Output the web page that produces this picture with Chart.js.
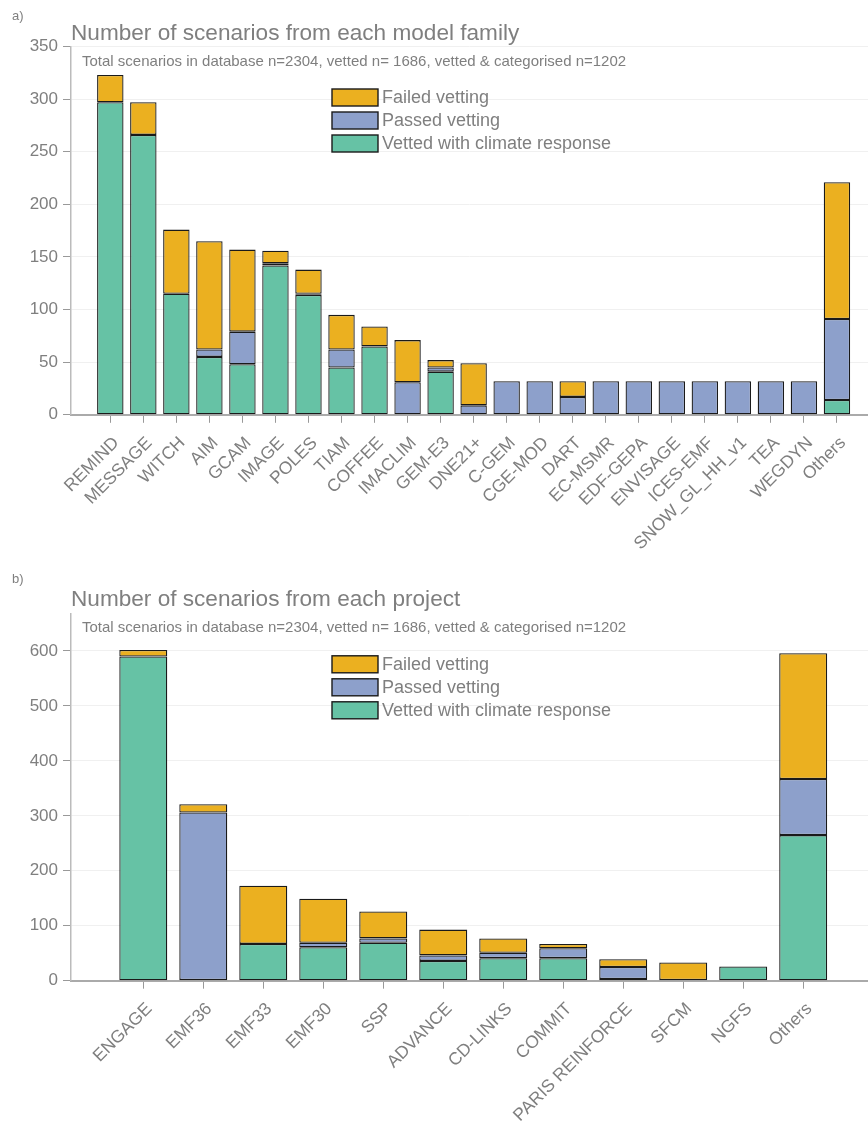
<!DOCTYPE html>
<html>
<head>
<meta charset="utf-8">
<script src="https://cdn.jsdelivr.net/npm/chart.js@4.4.1/dist/chart.umd.min.js"></script>
<style>
  html, body { margin: 0; padding: 0; background: #fff; overflow: hidden; }
  canvas { display: block; }
</style>
</head>
<body>
<canvas id="familyChart" width="868" height="560"></canvas>
<canvas id="projectChart" width="868" height="561"></canvas>
<script>
// a) model families
const modelFamilies = ["REMIND", "MESSAGE", "WITCH", "AIM", "GCAM", "IMAGE", "POLES", "TIAM", "COFFEE",
  "IMACLIM", "GEM-E3", "DNE21+", "C-GEM", "CGE-MOD", "DART", "EC-MSMR", "EDF-GEPA", "ENVISAGE",
  "ICES-EMF", "SNOW_GL_HH_v1", "TEA", "WEGDYN", "Others"];
const familyClimate = [297, 266, 115, 55, 48, 142, 114, 45, 65, 0, 41, 0, 0, 0, 0, 0, 0, 0, 0, 0, 0, 0, 14];
const familyPassed = [0, 0, 0, 7, 31, 2, 1, 17, 0, 31, 4, 9, 32, 32, 17, 32, 32, 32, 32, 32, 32, 32, 77];
const familyFailed = [26, 31, 61, 103, 78, 12, 23, 33, 19, 40, 7, 40, 0, 0, 15, 0, 0, 0, 0, 0, 0, 0, 130];

// b) projects
const projects = ["ENGAGE", "EMF36", "EMF33", "EMF30", "SSP", "ADVANCE", "CD-LINKS", "COMMIT",
  "PARIS REINFORCE", "SFCM", "NGFS", "Others"];
const projectClimate = [590, 1, 67, 61, 69, 36, 41, 41, 3, 0, 26, 265];
const projectPassed = [0, 305, 0, 8, 8, 10, 10, 18, 22, 1, 0, 102];
const projectFailed = [12, 15, 106, 80, 49, 47, 26, 8, 14, 32, 0, 229];

const subtitleText = "Total scenarios in database n=2304, vetted n= 1686, vetted & categorised n=1202";

const FONT = '"Liberation Sans", Arial, Helvetica, sans-serif';
const GREY = "#7f7f7f";
const COLORS = { climate: "#66c2a5", passed: "#8da0cb", failed: "#ebb020" };

// panel letter, title, note and the legend inside the plot
const panelPlugin = {
  id: "panel",
  afterDraw(chart, args, opts) {
    const { ctx, chartArea } = chart;
    ctx.save();
    ctx.fillStyle = GREY;
    ctx.textAlign = "left";
    ctx.textBaseline = "alphabetic";
    ctx.font = `13px ${FONT}`;
    ctx.fillText(opts.letter, 12, opts.letterY);
    ctx.font = `22.6px ${FONT}`;
    ctx.fillText(opts.title, chartArea.left, chartArea.top - 7);
    ctx.font = `15px ${FONT}`;
    ctx.fillText(subtitleText, chartArea.left + 11, chartArea.top + 19);

    ctx.font = `18px ${FONT}`;
    ctx.textBaseline = "middle";
    chart.data.datasets.slice().reverse().forEach((ds, i) => {
      const x = 332;
      const y = chartArea.top + 51 + i * 23;
      ctx.fillStyle = ds.backgroundColor;
      ctx.fillRect(x, y - 8.5, 46, 17);
      ctx.strokeStyle = "#1a1a1a";
      ctx.lineWidth = 1.4;
      ctx.strokeRect(x, y - 8.5, 46, 17);
      ctx.fillStyle = GREY;
      ctx.fillText(ds.label, x + 50, y + 1);
    });
    ctx.restore();
  },
};

function makeChart(id, labels, climate, passed, failed, opts) {
  const points = (arr) => arr.map((v, i) => ({ x: i, y: v }));
  return new Chart(document.getElementById(id), {
    type: "bar",
    data: {
      datasets: [
        { label: "Vetted with climate response", data: points(climate), backgroundColor: COLORS.climate },
        { label: "Passed vetting", data: points(passed), backgroundColor: COLORS.passed },
        { label: "Failed vetting", data: points(failed), backgroundColor: COLORS.failed },
      ],
    },
    options: {
      responsive: false,
      animation: false,
      layout: { padding: { top: opts.top, left: 0, right: 0, bottom: 0 } },
      datasets: {
        bar: {
          borderColor: "#1a1a1a",
          borderWidth: 1.3,
          borderSkipped: false,
          categoryPercentage: 1,
          barPercentage: 0.8,
        },
      },
      scales: {
        x: {
          type: "linear",
          stacked: true,
          offset: false,
          min: opts.xMin,
          max: opts.xMax,
          afterBuildTicks: (s) => { s.ticks = labels.map((_, i) => ({ value: i })); },
          afterFit: (s) => { s.height = opts.xHeight; s.paddingLeft = 0; s.paddingRight = 0; },
          ticks: {
            autoSkip: false,
            minRotation: 45,
            maxRotation: 45,
            padding: 10,
            labelOffset: 6,
            color: GREY,
            font: { family: FONT, size: 17.5 },
            callback: (v) => labels[v] ?? "",
          },
          grid: { offset: false, drawOnChartArea: false, tickLength: 8, tickColor: "#999", tickWidth: 1 },
          border: { color: "#aaa", width: 2 },
        },
        y: {
          stacked: true,
          min: 0,
          max: opts.yMax,
          afterBuildTicks: (s) => { s.ticks = s.ticks.filter((t) => t.value % opts.yStep === 0); },
          afterFit: (s) => { s.width = 71; s.paddingTop = 0; s.paddingBottom = 0; },
          ticks: { stepSize: opts.yStep, padding: 5, color: GREY, font: { family: FONT, size: 17 } },
          grid: { color: "#f0f0f0", tickColor: "#999", tickLength: 8 },
          border: { color: "#bbb", width: 1.5 },
        },
      },
      plugins: {
        legend: { display: false },
        tooltip: { enabled: false },
        panel: { letter: opts.letter, letterY: opts.letterY, title: opts.title },
      },
    },
    plugins: [panelPlugin],
  });
}

makeChart("familyChart", modelFamilies, familyClimate, familyPassed, familyFailed, {
  top: 46.5, xHeight: 145.2, xMin: -1.19, xMax: 22.94, yMax: 350, yStep: 50,
  letter: "a)", letterY: 20, title: "Number of scenarios from each model family",
});

makeChart("projectChart", projects, projectClimate, projectPassed, projectFailed, {
  top: 53.3, xHeight: 140.3, xMin: -1.205, xMax: 12.08, yMax: 668.6, yStep: 100,
  letter: "b)", letterY: 23, title: "Number of scenarios from each project",
});
</script>
</body>
</html>
